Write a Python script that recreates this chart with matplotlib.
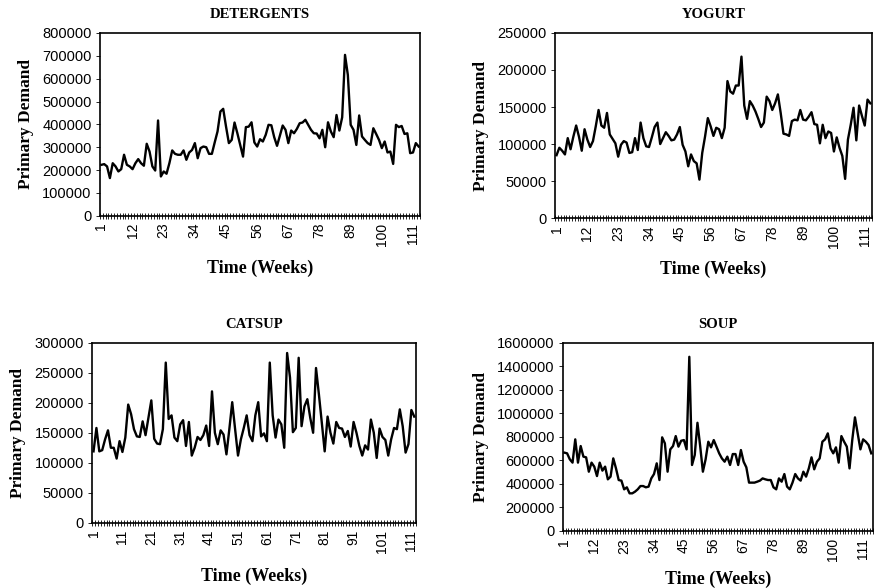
import matplotlib
matplotlib.use("Agg")
import matplotlib.pyplot as plt
import numpy as np

# weekly primary demand (values in thousands)
detergents = [223, 226, 216, 165, 230, 216, 194, 204, 267, 223, 216, 204, 230, 248, 230, 219,
              315, 281, 216, 198, 417, 172, 194, 184, 230, 286, 271, 267, 267, 286, 245, 277,
              288, 318, 252, 296, 303, 300, 271, 271, 321, 369, 456, 468, 390, 318, 332, 408,
              361, 310, 259, 388, 390, 409, 321, 303, 335, 325, 354, 398, 396, 344, 306, 350,
              395, 376, 318, 373, 361, 380, 405, 408, 420, 398, 376, 361, 360, 339, 376, 300,
              409, 369, 344, 441, 373, 431, 704, 616, 398, 376, 310, 439, 347, 332, 318, 310,
              383, 358, 332, 296, 325, 277, 281, 227, 398, 388, 393, 358, 361, 274, 277, 318,
              303]
yogurt = [85, 95, 91, 86, 108, 93, 110, 125, 110, 91, 120, 106, 96, 104, 124, 146,
          125, 122, 142, 113, 107, 101, 83, 99, 104, 102, 88, 89, 108, 92, 129, 108,
          97, 96, 109, 123, 129, 100, 108, 116, 111, 105, 106, 113, 123, 99, 90, 70,
          86, 77, 74, 52, 88, 110, 135, 124, 111, 122, 120, 108, 122, 185, 171, 168,
          179, 179, 218, 152, 134, 158, 152, 144, 134, 123, 129, 164, 158, 146, 155, 167,
          142, 114, 113, 111, 131, 133, 132, 146, 133, 132, 137, 143, 127, 126, 101, 126,
          108, 117, 115, 90, 109, 95, 84, 53, 106, 126, 149, 105, 152, 138, 125, 160,
          155]
catsup = [119, 158, 119, 121, 139, 154, 125, 125, 107, 136, 118, 142, 197, 181, 156, 144,
          143, 169, 146, 175, 204, 140, 132, 131, 156, 267, 173, 179, 142, 136, 164, 171,
          128, 168, 112, 125, 143, 138, 146, 162, 128, 219, 150, 131, 154, 147, 114, 156,
          201, 156, 112, 139, 158, 179, 146, 136, 179, 201, 144, 149, 136, 267, 179, 142,
          172, 164, 125, 283, 242, 151, 158, 275, 161, 194, 206, 175, 150, 258, 214, 167,
          119, 177, 150, 132, 168, 158, 157, 143, 153, 127, 168, 150, 128, 112, 129, 122,
          172, 150, 108, 157, 143, 138, 112, 139, 158, 156, 189, 161, 117, 131, 188, 177]
soup = [666, 660, 609, 581, 779, 581, 722, 632, 626, 504, 581, 547, 467, 581, 513, 547,
        439, 462, 617, 532, 433, 428, 354, 371, 320, 320, 334, 354, 382, 382, 371, 377,
        447, 484, 575, 433, 796, 745, 504, 694, 722, 807, 717, 767, 773, 694, 1481, 561,
        646, 920, 722, 504, 609, 759, 711, 773, 717, 660, 617, 589, 632, 561, 654, 654,
        561, 688, 589, 541, 411, 411, 411, 419, 428, 447, 439, 433, 433, 371, 354, 447,
        419, 484, 377, 354, 411, 484, 447, 428, 504, 462, 532, 626, 524, 589, 617, 759,
        779, 830, 702, 660, 711, 581, 807, 759, 717, 532, 773, 966, 830, 694, 779, 759,
        731, 660]

panels = [
    # title, series, ymax, ystep, label step
    ("DETERGENTS", detergents, 800000, 100000, 11),
    ("YOGURT", yogurt, 250000, 50000, 11),
    ("CATSUP", catsup, 300000, 50000, 10),
    ("SOUP", soup, 1600000, 200000, 11),
]
# axes rectangles (figure fraction) and x-label padding, per panel
rects = {
    "DETERGENTS": ([0.114, 0.633, 0.365, 0.311], 10),
    "YOGURT": ([0.633, 0.629, 0.361, 0.315], 9),
    "CATSUP": ([0.105, 0.111, 0.369, 0.306], 11),
    "SOUP": ([0.642, 0.097, 0.353, 0.320], 7),
}

serif = "Liberation Serif"
sans = "Liberation Sans"

fig = plt.figure(figsize=(8.77, 5.88), dpi=100)

for title, series, ymax, ystep, lstep in panels:
    rect, xpad = rects[title]
    ax = fig.add_axes(rect)
    vals = np.asarray(series, dtype=float) * 1000
    weeks = np.arange(1, len(vals) + 1)
    ax.plot(weeks, vals, color="black", lw=1.7)

    ax.set_xlim(0.5, len(vals) + 0.5)
    ax.set_ylim(0, ymax)
    yt = np.arange(0, ymax + 1, ystep)
    ax.set_yticks(yt)
    ax.set_yticklabels([f"{int(v)}" for v in yt], fontsize=10.5, family=sans)

    major = weeks[::lstep]
    ax.set_xticks(major)
    ax.set_xticklabels([str(w) for w in major], rotation=90, fontsize=10, family=sans)
    ax.set_xticks(np.arange(0.5, len(vals) + 1, 1.0), minor=True)
    ax.tick_params(axis="x", which="major", length=0, pad=5)
    ax.tick_params(axis="x", which="minor", direction="inout", length=5, width=0.6)
    ax.tick_params(axis="y", direction="out", length=3, width=0.6, pad=3)

    for s in ax.spines.values():
        s.set_linewidth(1.2)
        s.set_color("black")

    ax.set_title(title, fontsize=10.5, fontweight="bold", family=serif, pad=11)
    ax.set_ylabel("Primary Demand", fontsize=12.5, fontweight="bold", family=serif,
                  labelpad=6)
    ax.set_xlabel("Time (Weeks)", fontsize=13, fontweight="bold", family=serif,
                  labelpad=xpad)

fig.savefig("out.png", dpi=100)
